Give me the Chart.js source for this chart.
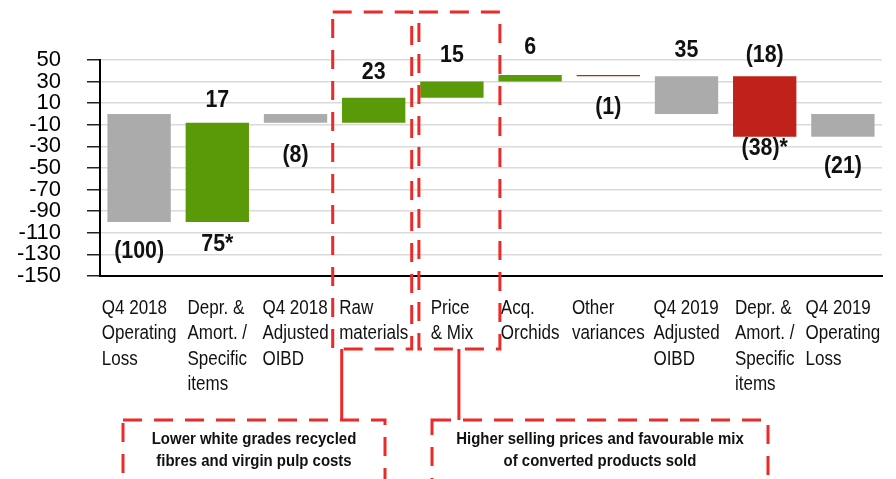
<!DOCTYPE html>
<html>
<head>
<meta charset="utf-8">
<script src="https://cdn.jsdelivr.net/npm/chart.js@4/dist/chart.umd.min.js"></script>
<style>
  html, body { margin: 0; padding: 0; background: #fff; }
  #wrap { width: 896px; height: 479px; position: relative; }
</style>
</head>
<body>
<div id="wrap"><canvas id="bridge"></canvas></div>
<script>
// bridge Q4 2018 -> Q4 2019 operating result (SEK m)
const categories = [
  ['Q4 2018', 'Operating', 'Loss'],
  ['Depr. &', 'Amort. /', 'Specific', 'items'],
  ['Q4 2018', 'Adjusted', 'OIBD'],
  ['Raw', 'materials'],
  ['Price', '& Mix'],
  ['Acq.', 'Orchids'],
  ['Other', 'variances'],
  ['Q4 2019', 'Adjusted', 'OIBD'],
  ['Depr. &', 'Amort. /', 'Specific', 'items'],
  ['Q4 2019', 'Operating', 'Loss']
];
const barFrom = [0, -100, 0, -8, 15, 30, 36, 0, 35, 0];
const barTo   = [-100, -8, -8, 15, 30, 36, 35, 35, -21, -21];
const barKind = ['total', 'up', 'total', 'up', 'up', 'up', 'down', 'total', 'down', 'total'];
const labelsAbove = ['', '17', '', '23', '15', '6', '', '35', '(18)', ''];
const labelsBelow = ['(100)', '75*', '(8)', '', '', '', '(1)', '', '(38)*', '(21)'];
const yTicks = [-150, -130, -110, -90, -70, -50, -30, -10, 10, 30, 50];
const notes = [
  ['Lower white grades recycled', 'fibres and virgin pulp costs'],
  ['Higher selling prices and favourable mix', 'of converted products sold']
];

const kindColor = { total: '#ABABAB', up: '#5A9A08', down: '#C0211A' };
const FONT = '"Liberation Sans", Arial, sans-serif';
const DASH_RED = '#ED2A2A';

// offsets of the value labels from the bar ends (px)
const aboveGap = [0, 22, 0, 25, 26, 27, 0, 26, 21, 0];
const belowGap = [30, 23, 33, 0, 0, 0, 31, 0, 12, 30];

// text squeezed horizontally, like the condensed face of the original
function squeezed(ctx, text, x, y, sx) {
  ctx.save();
  ctx.translate(x, y);
  ctx.scale(sx, 1);
  ctx.fillText(text, 0, 0);
  ctx.restore();
}

const valueLabels = {
  id: 'valueLabels',
  afterDatasetsDraw(chart) {
    const ctx = chart.ctx;
    const meta = chart.getDatasetMeta(0);
    ctx.save();
    ctx.font = 'bold 23px ' + FONT;
    ctx.fillStyle = '#111';
    ctx.textAlign = 'center';
    ctx.textBaseline = 'middle';
    meta.data.forEach((bar, i) => {
      const top = Math.min(bar.y, bar.base);
      const bottom = Math.max(bar.y, bar.base);
      if (labelsAbove[i]) squeezed(ctx, labelsAbove[i], bar.x, top - aboveGap[i], 0.93);
      if (labelsBelow[i]) squeezed(ctx, labelsBelow[i], bar.x, bottom + belowGap[i], 0.93);
    });
    ctx.restore();
  }
};

// category names: block centred under the bar, lines left aligned
const categoryLabels = {
  id: 'categoryLabels',
  afterDraw(chart) {
    const ctx = chart.ctx;
    const x = chart.scales.x;
    const y0 = chart.chartArea.bottom + 32;
    const sx = 0.83;
    ctx.save();
    ctx.font = '20.5px ' + FONT;
    ctx.fillStyle = '#111';
    ctx.textAlign = 'left';
    ctx.textBaseline = 'middle';
    categories.forEach((lines, i) => {
      const cx = x.getPixelForValue(i);
      const w = Math.max(...lines.map(l => ctx.measureText(l).width)) * sx;
      lines.forEach((l, k) => squeezed(ctx, l, cx - w / 2, y0 + k * 25.5, sx));
    });
    ctx.restore();
  }
};

// dashed call-out boxes and the notes under the chart
const callouts = {
  id: 'callouts',
  afterDraw(chart) {
    const ctx = chart.ctx;
    const x = chart.scales.x;
    const c3 = x.getPixelForValue(3);
    const c4 = x.getPixelForValue(4);
    ctx.save();
    ctx.strokeStyle = DASH_RED;
    ctx.lineWidth = 3;

    ctx.setLineDash([19, 12]);
    ctx.strokeRect(c3 - 41, 12, 79, 337);
    ctx.strokeRect(c4 - 33, 12, 81, 337);
    ctx.strokeRect(123, 420, 262, 90);
    ctx.strokeRect(432, 420, 336, 90);

    ctx.setLineDash([]);
    ctx.beginPath();
    ctx.moveTo(c3 - 32, 349); ctx.lineTo(c3 - 32, 420);
    ctx.moveTo(c4 + 7, 349); ctx.lineTo(c4 + 7, 420);
    ctx.stroke();

    ctx.font = 'bold 17px ' + FONT;
    ctx.fillStyle = '#111';
    ctx.textAlign = 'center';
    ctx.textBaseline = 'middle';
    const centres = [254, 600];
    notes.forEach((lines, n) => {
      lines.forEach((l, k) => squeezed(ctx, l, centres[n], 439 + k * 22, 0.88));
    });
    ctx.restore();
  }
};

new Chart(document.getElementById('bridge'), {
  type: 'bar',
  data: {
    labels: categories,
    datasets: [{
      data: barFrom.map((v, i) => [v, barTo[i]]),
      backgroundColor: barKind.map(k => kindColor[k]),
      borderWidth: 0,
      categoryPercentage: 1,
      barPercentage: 0.81
    }]
  },
  options: {
    responsive: true,
    maintainAspectRatio: false,
    animation: false,
    layout: { padding: { top: 60, right: 14, left: 0, bottom: 0 } },
    plugins: { legend: { display: false }, tooltip: { enabled: false } },
    scales: {
      x: {
        ticks: { display: false },
        grid: { display: false },
        border: { display: true, color: '#000', width: 2 },
        afterFit: s => { s.height = 203; }
      },
      y: {
        min: -150,
        max: 50,
        afterBuildTicks: s => { s.ticks = yTicks.map(v => ({ value: v })); },
        afterFit: s => { s.width = 100; },
        ticks: {
          color: '#000',
          padding: 26,
          autoSkip: false,
          font: { family: FONT, size: 22 }
        },
        grid: { color: '#DADADA', lineWidth: 1.5, tickColor: '#222', tickLength: 13 },
        border: { display: true, color: '#000', width: 2 }
      }
    }
  },
  plugins: [valueLabels, categoryLabels, callouts]
});
</script>
</body>
</html>
